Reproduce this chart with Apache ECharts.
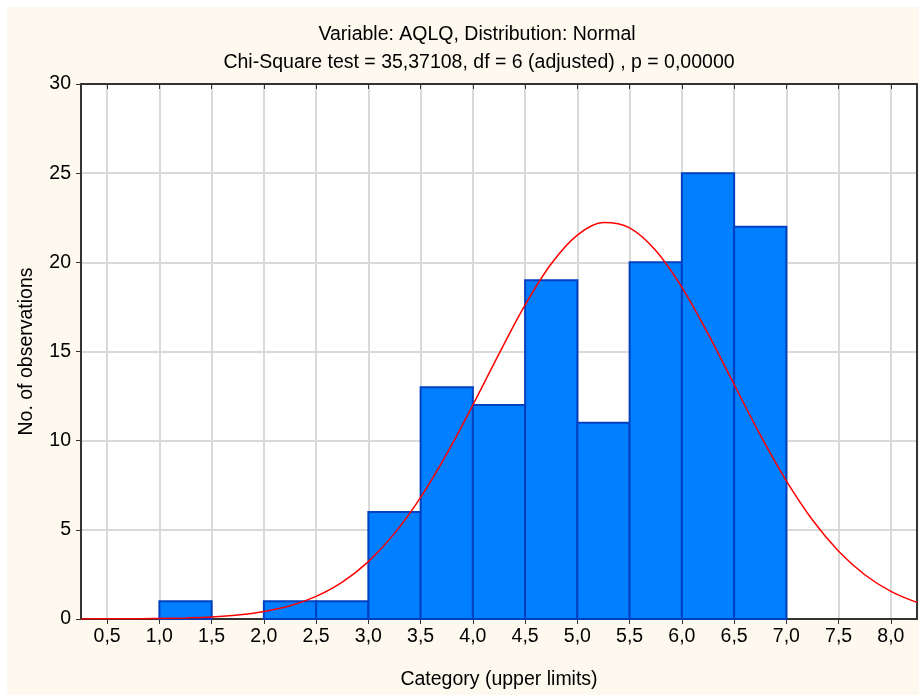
<!DOCTYPE html>
<html>
<head>
<meta charset="utf-8">
<script src="https://cdn.jsdelivr.net/npm/echarts@6/dist/echarts.min.js"></script>
<style>
html,body{margin:0;padding:0;background:#ffffff;}
#chart{position:absolute;left:7px;top:7px;width:912px;height:688px;}
</style>
</head>
<body>
<div id="chart"></div>
<script>
// Histogram bins (lower / upper limits) and counts
const binLower = [0.5, 1.0, 1.5, 2.0, 2.5, 3.0, 3.5, 4.0, 4.5, 5.0, 5.5, 6.0, 6.5];
const binUpper = [1.0, 1.5, 2.0, 2.5, 3.0, 3.5, 4.0, 4.5, 5.0, 5.5, 6.0, 6.5, 7.0];
const binCounts = [0, 1, 0, 1, 1, 6, 13, 12, 19, 11, 20, 25, 22];

// Fitted normal curve
const curveX = [0.25,0.5,0.75,1.0,1.25,1.5,1.75,2.0,2.25,2.5,2.75,3.0,3.25,3.5,3.75,4.0,4.25,4.5,4.75,5.0,5.25,5.5,5.75,6.0,6.25,6.5,6.75,7.0,7.25,7.5,7.75,8.0,8.25];
const curveY = [0.00,0.01,0.01,0.03,0.06,0.11,0.22,0.42,0.74,1.27,2.07,3.22,4.80,6.82,9.26,12.0,14.87,17.61,19.92,21.53,22.23,21.93,20.66,18.6,16.0,13.15,10.32,7.74,5.55,3.80,2.48,1.55,0.93];

// Axis ticks
const xTicks = [0.5,1.0,1.5,2.0,2.5,3.0,3.5,4.0,4.5,5.0,5.5,6.0,6.5,7.0,7.5,8.0];
const xMin = 0.25, xMax = 8.25;
const yMin = 0, yMax = 30, yStep = 5;

const titleLine1 = 'Variable: AQLQ, Distribution: Normal';
const titleLine2 = 'Chi-Square test = 35,37108, df = 6 (adjusted) , p = 0,00000';
const xName = 'Category (upper limits)';
const yName = 'No. of observations';

const fmt = v => v.toFixed(1).replace('.', ',');
const FONT = '"Liberation Sans", Arial, sans-serif';
const FS = 19.5;

const chart = echarts.init(document.getElementById('chart'));
const binData = binLower.map((lo, i) => [lo, binUpper[i], binCounts[i]]);

chart.setOption({
  backgroundColor: '#FEF9EE',
  animation: false,
  textStyle: { fontFamily: FONT },
  title: [
    { text: titleLine1, left: 465, top: 13, textAlign: 'center',
      textStyle: { fontSize: FS, fontWeight: 'normal', color: '#000', fontFamily: FONT } },
    { text: titleLine2, left: 467, top: 41, textAlign: 'center',
      textStyle: { fontSize: FS, fontWeight: 'normal', color: '#000', fontFamily: FONT } }
  ],
  grid: { left: 74, right: 2, top: 77, bottom: 75, show: true, backgroundColor: '#ffffff', borderWidth: 0 },
  xAxis: [
    {
      type: 'value', min: xMin, max: xMax, position: 'bottom',
      name: xName, nameLocation: 'middle', nameGap: 51,
      nameTextStyle: { fontSize: FS, color: '#000', fontFamily: FONT },
      axisLine: { show: true, onZero: false, lineStyle: { color: '#333', width: 2 } },
      axisTick: { show: true, inside: false, length: 5, customValues: xTicks, lineStyle: { color: '#333' } },
      axisLabel: { customValues: xTicks, formatter: fmt, fontSize: FS, color: '#000', margin: 8, fontFamily: FONT },
      splitLine: { show: true, lineStyle: { color: '#d9d9d9', width: 2 } }
    },
    {
      type: 'value', min: xMin, max: xMax, position: 'top',
      axisLine: { show: true, onZero: false, lineStyle: { color: '#333', width: 2 } },
      axisTick: { show: true, inside: true, length: 5, customValues: xTicks, lineStyle: { color: '#333' } },
      axisLabel: { show: false },
      splitLine: { show: false }
    }
  ],
  yAxis: [
    {
      type: 'value', min: yMin, max: yMax, interval: yStep, position: 'left',
      name: yName, nameLocation: 'middle', nameGap: 44, nameRotate: 90,
      nameTextStyle: { fontSize: FS, color: '#000', fontFamily: FONT },
      axisLine: { show: true, onZero: false, lineStyle: { color: '#333', width: 2 } },
      axisTick: { show: true, inside: false, length: 5, lineStyle: { color: '#333' } },
      axisLabel: { fontSize: FS, color: '#000', margin: 10, fontFamily: FONT },
      splitLine: { show: true, lineStyle: { color: '#d9d9d9', width: 2 } }
    },
    {
      type: 'value', min: yMin, max: yMax, interval: yStep, position: 'right',
      axisLine: { show: true, onZero: false, lineStyle: { color: '#333', width: 2 } },
      axisTick: { show: false }, axisLabel: { show: false }, splitLine: { show: false }
    }
  ],
  series: [
    {
      type: 'custom',
      xAxisIndex: 0, yAxisIndex: 0,
      data: binData,
      encode: { x: [0, 1], y: 2 },
      renderItem: function (params, api) {
        const lo = api.value(0), hi = api.value(1), v = api.value(2);
        if (!v) { return null; }
        const p1 = api.coord([lo, v]);
        const p2 = api.coord([hi, 0]);
        return {
          type: 'rect',
          shape: { x: p1[0], y: p1[1], width: p2[0] - p1[0], height: p2[1] - p1[1] },
          style: { fill: '#0080FF', stroke: '#0040C0', lineWidth: 2 }
        };
      },
      z: 2
    },
    {
      type: 'line',
      xAxisIndex: 0, yAxisIndex: 0,
      data: curveX.map((x, i) => [x, curveY[i]]),
      smooth: 0.35, showSymbol: false,
      lineStyle: { color: '#FF0000', width: 1.5 },
      z: 3
    }
  ]
});
</script>
</body>
</html>
